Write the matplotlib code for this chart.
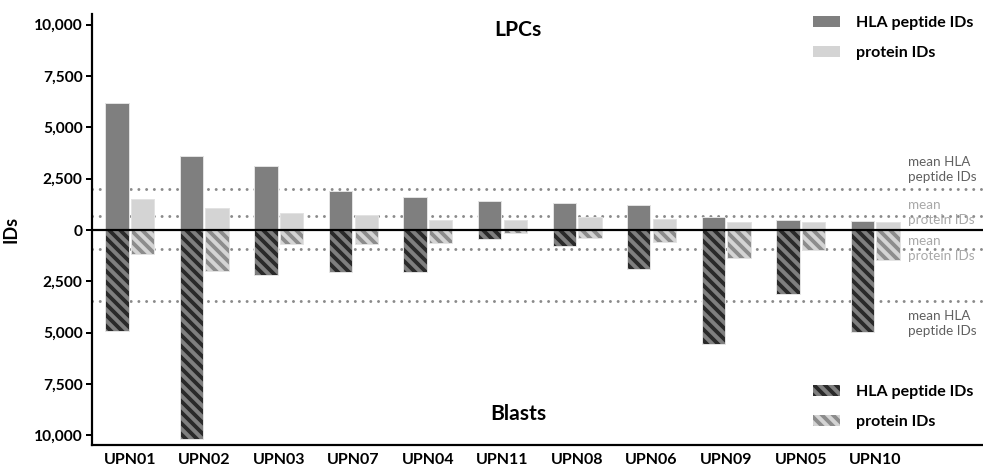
import numpy as np
import matplotlib
matplotlib.use("Agg")
import matplotlib.pyplot as plt
from matplotlib.patches import Patch
from matplotlib.ticker import FuncFormatter

# ---------------------------------------------------------------------
# Data
# ---------------------------------------------------------------------
patients = ["UPN01", "UPN02", "UPN03", "UPN07", "UPN04", "UPN11",
            "UPN08", "UPN06", "UPN09", "UPN05", "UPN10"]
lpc_hla = [6200, 3620, 3100, 1900, 1600, 1430, 1300, 1230, 650, 500, 420]
lpc_protein = [1500, 1090, 810, 730, 500, 490, 630, 520, 370, 390, 370]
blast_hla = [4900, 10180, 2200, 2050, 2030, 455, 795, 1880, 5550, 3120, 4950]
blast_protein = [1190, 2000, 700, 700, 650, 160, 405, 600, 1365, 975, 1460]
ytick_values = [-10000, -7500, -5000, -2500, 0, 2500, 5000, 7500, 10000]

# ---------------------------------------------------------------------
# Style
# ---------------------------------------------------------------------
DPI = 66
PT = 72 / DPI          # points per pixel
DARK = "#7f7f7f"
LIGHT = "#d4d4d4"
STRIPE_DARK = "#2a2a2a"
STRIPE_LIGHT = "#8c8c8c"
EDGE = "#e2e2e2"
DOT = "#8a8a8a"
HATCH = "\\\\"

plt.rcParams["font.family"] = ["Lato", "DejaVu Sans"]
plt.rcParams["hatch.linewidth"] = 3.8 * PT

fig = plt.figure(figsize=(983 / DPI, 473 / DPI), dpi=DPI)
ax = fig.add_axes([91.7 / 983, 1 - 445 / 473, 1 - 91.7 / 983, (445 - 14) / 473])

x = np.arange(len(patients))
w = 0.313
off = 0.172

# --- LPCs (upwards) ---
ax.bar(x - off, lpc_hla, w, color=DARK, edgecolor=EDGE, linewidth=1 * PT, zorder=3)
ax.bar(x + off, lpc_protein, w, color=LIGHT, edgecolor=EDGE, linewidth=1 * PT, zorder=3)

# --- Blasts (downwards, hatched) ---
neg_hla = -np.array(blast_hla)
neg_prot = -np.array(blast_protein)
ax.bar(x - off, neg_hla, w, color=DARK, edgecolor=STRIPE_DARK, hatch=HATCH,
       linewidth=0, zorder=3)
ax.bar(x - off, neg_hla, w, fill=False, edgecolor=EDGE, linewidth=1 * PT, zorder=4)
ax.bar(x + off, neg_prot, w, color=LIGHT, edgecolor=STRIPE_LIGHT, hatch=HATCH,
       linewidth=0, zorder=3)
ax.bar(x + off, neg_prot, w, fill=False, edgecolor=EDGE, linewidth=1 * PT, zorder=4)

# --- mean lines ---
means = [
    (np.mean(lpc_hla), "mean HLA\npeptide IDs", "#606060", 20),
    (np.mean(lpc_protein), "mean\nprotein IDs", "#a8a8a8", 4),
    (-np.mean(blast_protein), "mean\nprotein IDs", "#a8a8a8", 1),
    (-np.mean(blast_hla), "mean HLA\npeptide IDs", "#606060", -22),
]
dot_lw = 3.0 * PT
for val, label, col, dy in means:
    ax.axhline(val, color=DOT, linewidth=dot_lw, linestyle=(0, (0.01, 7.7 / 3.0)),
               dash_capstyle="round", zorder=1)
    ax.annotate(label, xy=(10.44, val), xytext=(0, dy * PT), textcoords="offset points",
                ha="left", va="center", color=col, fontsize=13.5 * PT,
                linespacing=1.3, zorder=2)

ax.axhline(0, color="black", linewidth=2.2 * PT, zorder=5)

# --- axes ---
ax.set_xlim(-0.511, 11.446)
ax.set_ylim(-10470, 10520)
ax.set_xticks(x)
ax.set_xticklabels(patients, fontsize=16 * PT, fontweight="bold")
ax.tick_params(axis="x", length=0, pad=8 * PT)
ax.set_yticks(ytick_values)
ax.yaxis.set_major_formatter(FuncFormatter(lambda v, _: f"{abs(int(v)):,}"))
ax.tick_params(axis="y", length=6 * PT, width=2 * PT, pad=3 * PT,
               labelsize=15.5 * PT)
for lab in ax.get_yticklabels():
    lab.set_fontweight("bold")
ax.set_ylabel("IDs", fontsize=18 * PT, fontweight="bold")
ax.yaxis.set_label_coords((20 - 91.7) / (983 - 91.7), 0.5)

for side in ["top", "right"]:
    ax.spines[side].set_visible(False)
for side in ["left", "bottom"]:
    ax.spines[side].set_linewidth(2.2 * PT)

# --- titles ---
ax.text(0.478, 1 - (30 - 14) / 431, "LPCs", transform=ax.transAxes,
        ha="center", va="center", fontsize=21 * PT, fontweight="bold")
ax.text(0.479, 1 - (414 - 14) / 431, "Blasts", transform=ax.transAxes,
        ha="center", va="center", fontsize=21 * PT, fontweight="bold")

# --- legends ---
leg_kw = dict(frameon=False, borderpad=0, borderaxespad=0, handlelength=1.7,
              handleheight=0.65, handletextpad=1.0, labelspacing=1.0,
              loc="upper left", bbox_transform=fig.transFigure,
              prop=dict(size=16 * PT, weight="bold"))
top_handles = [Patch(facecolor=DARK, edgecolor="none"),
               Patch(facecolor=LIGHT, edgecolor="none")]
bottom_handles = [Patch(facecolor=DARK, edgecolor=STRIPE_DARK, hatch=HATCH, linewidth=0),
                  Patch(facecolor=LIGHT, edgecolor=STRIPE_LIGHT, hatch=HATCH, linewidth=0)]
labels = ["HLA peptide IDs", "protein IDs"]
leg1 = ax.legend(top_handles, labels, bbox_to_anchor=(813 / 983, 1 - 16 / 473), **leg_kw)
ax.add_artist(leg1)
ax.legend(bottom_handles, labels, bbox_to_anchor=(813 / 983, 1 - 385 / 473), **leg_kw)

fig.savefig("out.png", dpi=DPI)
